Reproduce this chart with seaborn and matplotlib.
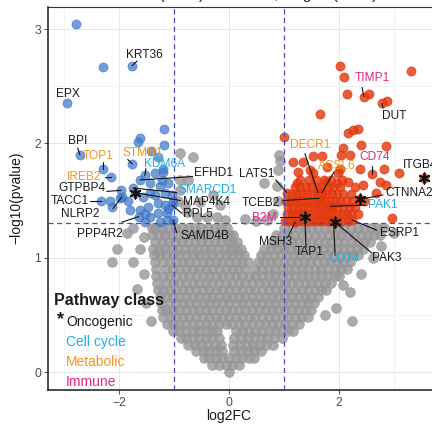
import matplotlib
matplotlib.use("Agg")
import matplotlib.pyplot as plt
import pandas as pd
import seaborn as sns

# ---------------- data ----------------
# non-significant genes, listed by -log10(p) level with their log2FC values
grey_levels = [0.00, 0.06, 0.12, 0.18, 0.24, 0.30, 0.36, 0.42, 0.48, 0.54, 0.60,
               0.66, 0.72, 0.78, 0.84, 0.90, 0.96, 1.02, 1.08, 1.14, 1.20, 1.26]
grey_fc_rows = [
    [0.00],
    [-0.30, -0.18, -0.06, 0.06, 0.18],
    [-0.46, -0.36, -0.24, -0.12, 0.00, 0.12, 0.24, 0.36, 0.45],
    [-0.60, -0.48, -0.36, -0.24, -0.12, 0.10, 0.22, 0.34, 0.46, 0.58],
    [-0.74, -0.62, -0.50, -0.38, -0.26, -0.14, 0.08, 0.20, 0.32, 0.44, 0.56, 0.68, 0.80],
    [-0.88, -0.78, -0.66, -0.54, -0.42, -0.30, -0.18, 0.10, 0.22, 0.34, 0.46, 0.58, 0.70,
     0.82, 0.96],
    [-1.02, -0.90, -0.78, -0.66, -0.54, -0.42, -0.30, -0.22, 0.12, 0.24, 0.36, 0.48, 0.60,
     0.72, 0.84, 0.96, 1.08, 1.16],
    [-1.12, -1.02, -0.90, -0.78, -0.66, -0.54, -0.42, -0.30, -0.18, -0.06, 0.06, 0.18, 0.30,
     0.42, 0.54, 0.66, 0.78, 0.90, 1.02, 1.14, 1.28],
    [-1.20, -1.08, -0.96, -0.84, -0.72, -0.60, -0.48, -0.36, -0.24, -0.12, 0.00, 0.12, 0.24,
     0.36, 0.48, 0.60, 0.72, 0.84, 0.96, 1.08, 1.20, 1.32, 1.44],
    [-1.22, -1.14, -1.02, -0.90, -0.78, -0.66, -0.54, -0.42, -0.30, -0.18, -0.06, 0.06, 0.18,
     0.30, 0.42, 0.54, 0.66, 0.78, 0.90, 1.02, 1.14, 1.26, 1.38, 1.50],
    [-1.24, -1.08, -0.96, -0.84, -0.72, -0.60, -0.48, -0.36, -0.24, -0.12, 0.00, 0.12, 0.24,
     0.36, 0.48, 0.60, 0.72, 0.84, 0.96, 1.08, 1.20, 1.32, 1.44, 1.55],
    [-1.26, -1.14, -1.02, -0.90, -0.78, -0.66, -0.54, -0.42, -0.30, -0.18, -0.06, 0.06, 0.18,
     0.30, 0.42, 0.54, 0.66, 0.78, 0.90, 1.02, 1.14, 1.26, 1.38, 1.50, 1.62],
    [-1.29, -1.20, -1.08, -0.96, -0.84, -0.72, -0.60, -0.48, -0.36, -0.24, -0.12, 0.00, 0.12,
     0.24, 0.36, 0.48, 0.60, 0.72, 0.84, 0.96, 1.08, 1.20, 1.32, 1.44, 1.56, 1.68, 1.76],
    [-1.30, -1.14, -1.02, -0.90, -0.78, -0.66, -0.54, -0.42, -0.30, -0.18, -0.06, 0.06, 0.18,
     0.30, 0.42, 0.54, 0.66, 0.78, 0.90, 1.02, 1.14, 1.26, 1.38, 1.50, 1.62, 1.74, 1.86],
    [-1.32, -1.20, -1.08, -0.96, -0.84, -0.72, -0.60, -0.48, -0.36, -0.24, -0.12, 0.00, 0.12,
     0.24, 0.36, 0.48, 0.60, 0.72, 0.84, 0.96, 1.08, 1.20, 1.32, 1.44, 1.56, 1.68, 1.80, 1.92,
     2.00],
    [-1.33, -1.14, -1.02, -0.90, -0.78, -0.66, -0.54, -0.42, -0.30, -0.18, -0.06, 0.06, 0.17,
     0.29, 0.48, 0.60, 0.72, 0.84, 0.96, 1.08, 1.20, 1.32, 1.44, 1.56, 1.68, 1.80, 1.92, 2.04,
     2.14],
    [-1.34, -1.20, -1.08, -0.96, -0.84, -0.72, -0.60, -0.48, -0.36, -0.24, -0.12, 0.00, 0.12,
     0.24, 0.34, 0.52, 0.64, 0.76, 0.88, 1.00, 1.12, 1.24, 1.36, 1.48, 1.60, 1.72, 1.84, 1.96,
     2.08, 2.20],
    [-1.36, -1.26, -1.14, -1.02, -0.90, -0.78, -0.66, -0.54, -0.42, -0.30, -0.18, -0.06, 0.06,
     0.16, 0.27, 0.58, 0.70, 0.82, 0.94, 1.06, 1.18, 1.30, 1.42, 1.54, 1.66, 1.78, 1.90, 2.02,
     2.14, 2.26, 2.34],
    [-1.38, -1.28, -1.16, -1.04, -0.92, -0.80, -0.68, -0.56, -0.44, -0.32, -0.20, -0.08, 0.04,
     0.12, 0.22, 0.64, 0.76, 0.88, 1.00, 1.12, 1.24, 1.36, 1.48, 1.60, 1.72, 1.84, 1.96, 2.08,
     2.20, 2.32, 2.44],
    [-1.34, -1.22, -1.10, -0.98, -0.86, -0.74, -0.62, -0.50, -0.38, -0.26, -0.14, -0.02, 0.06,
     0.15, 0.78, 0.90, 1.02, 1.14, 1.26, 1.38, 1.50, 1.62, 1.74, 1.86, 1.98, 2.10, 2.22, 2.34,
     2.46, 2.56],
    [-1.40, -1.28, -1.16, -1.04, -0.92, -0.80, -0.68, -0.56, -0.44, -0.32, -0.20, -0.08, 0.02,
     0.08, 0.86, 0.96, 1.08, 1.20, 1.32, 1.44, 1.56, 1.68, 1.80, 1.92, 2.04, 2.16, 2.28, 2.40,
     2.52, 2.64, 2.74],
    [-1.40, -1.34, -1.22, -1.10, -0.98, -0.86, -0.74, -0.62, -0.50, -0.38, -0.26, -0.14, -0.04,
     1.00, 1.14, 1.26, 1.38, 1.50, 1.62, 1.74, 1.86, 1.98, 2.10, 2.22, 2.34, 2.46, 2.58, 2.70,
     2.82],
]
# scattered non-significant genes
grey_extra_fc = [-2.04, -2.13, -1.75, -1.62, -1.75, -1.85, -1.67, -1.55, -1.50, -1.42, -1.55,
                 1.95, 2.07, 2.24, 2.40, 2.62, 2.76, 3.00, 1.75, 2.20,
                 -0.89, -0.65, -0.89, -0.75, -0.53, -0.29, -0.16, -0.76, -0.58, -0.40, -0.22,
                 -0.07, -0.89, -0.93, -0.80, 0.91, 0.93, 0.89, 0.64, 0.88, 0.90, 0.80, 0.70,
                 0.50, 0.30]
grey_extra_nlp = [1.08, 0.96, 0.96, 1.08, 1.26, 1.22, 0.73, 0.86, 0.60, 0.45, 1.18,
                  0.56, 0.76, 0.45, 0.86, 1.00, 1.10, 1.22, 0.50, 0.70,
                  1.92, 1.88, 1.68, 1.68, 1.49, 1.55, 1.46, 1.40, 1.36, 1.36, 1.36,
                  1.33, 1.59, 1.50, 1.46, 1.90, 1.85, 1.77, 1.65, 1.63, 1.50, 1.38, 1.33,
                  1.32, 1.34]

# significantly down-regulated genes (unlabelled)
down_fc = [-2.78, -2.29, -1.18, -1.62, -1.65, -1.18, -1.42, -1.20, -1.29, -1.35, -1.22,
           -2.16, -1.98, -1.56, -1.44, -1.35, -1.16, -1.04, -1.62, -1.47, -1.29, -1.16,
           -1.02, -1.80, -2.13, -1.44, -1.29, -1.13, -1.53, -1.25, -1.13, -1.84, -1.25,
           -1.11, -1.44, -1.20, -1.53, -1.10]
down_nlp = [3.04, 2.67, 2.13, 2.05, 2.01, 1.99, 1.93, 1.75, 1.88, 1.74, 1.68,
            1.50, 1.52, 1.53, 1.57, 1.55, 1.57, 1.55, 1.42, 1.44, 1.48, 1.46,
            1.50, 1.42, 1.44, 1.36, 1.39, 1.39, 1.31, 1.31, 1.33, 1.50, 1.63,
            1.65, 1.65, 1.78, 1.38, 1.43]

# significantly up-regulated genes (unlabelled)
up_fc = [2.02, 3.31, 2.09, 2.15, 2.55, 2.87, 1.65, 1.00, 2.16, 2.25, 2.35, 2.07, 2.40, 2.85,
         2.04, 2.20, 1.53, 1.69, 1.16, 1.35, 2.38, 3.09, 1.24, 1.53, 1.76, 1.98, 1.96, 2.16,
         2.44, 2.85, 2.67, 1.25, 1.47, 1.78, 2.02, 2.82, 2.96, 2.75,
         1.02, 1.10, 1.18, 1.26, 1.34, 1.42, 1.50, 1.58, 1.66, 1.74, 1.82, 1.90, 1.98, 2.06,
         2.16,
         1.05, 1.14, 1.22, 1.30, 1.38, 1.46, 1.55, 1.63, 1.71, 1.80, 1.88, 1.96, 2.05, 2.14,
         2.22, 2.35,
         1.08, 1.17, 1.26, 1.35, 1.44, 1.53, 1.62, 1.70, 1.79, 1.88, 1.97, 2.08, 2.20, 2.30,
         1.03, 1.12, 1.21, 1.30, 1.39, 1.48, 1.57, 1.66, 1.75, 1.84, 1.93, 2.02, 2.12, 2.26,
         2.46,
         1.15, 1.24, 1.33, 1.42, 1.51, 1.60, 1.69, 1.78, 1.87, 1.96, 2.08, 2.22,
         1.20, 1.30, 1.40, 1.50, 1.60, 1.70, 1.80, 1.90, 2.02, 2.30,
         1.30, 1.45, 1.58, 1.72, 1.85, 2.05]
up_nlp = [2.68, 2.63, 2.58, 2.43, 2.43, 2.37, 2.26, 2.06, 2.09, 2.12, 2.13, 1.96, 1.99, 1.98,
          1.90, 1.90, 1.89, 1.89, 1.84, 1.84, 1.78, 1.74, 1.65, 1.74, 1.66, 1.74, 1.65, 1.66,
          1.64, 1.64, 1.57, 1.75, 1.77, 1.79, 1.78, 1.78, 1.35, 1.66,
          1.32, 1.32, 1.32, 1.32, 1.32, 1.32, 1.32, 1.32, 1.32, 1.32, 1.32, 1.32, 1.32, 1.32,
          1.32,
          1.38, 1.38, 1.38, 1.38, 1.38, 1.38, 1.38, 1.38, 1.38, 1.38, 1.38, 1.38, 1.38, 1.38,
          1.38, 1.38,
          1.44, 1.44, 1.44, 1.44, 1.44, 1.44, 1.44, 1.44, 1.44, 1.44, 1.44, 1.44, 1.44, 1.44,
          1.50, 1.50, 1.50, 1.50, 1.50, 1.50, 1.50, 1.50, 1.50, 1.50, 1.50, 1.50, 1.50, 1.50,
          1.50,
          1.56, 1.56, 1.56, 1.56, 1.56, 1.56, 1.56, 1.56, 1.56, 1.56, 1.56, 1.56,
          1.62, 1.62, 1.62, 1.62, 1.62, 1.62, 1.62, 1.62, 1.62, 1.62,
          1.68, 1.68, 1.68, 1.68, 1.68, 1.68]

# labelled genes
label_genes = ["KRT36", "EPX", "BPI", "TOP1", "STMN1", "IREB2", "KDM6A", "EFHD1", "SMARCD1",
               "GTPBP4", "MAP4K4", "TACC1", "NLRP2", "RPL5", "PPP4R2", "SAMD4B",
               "TIMP1", "DUT", "DECR1", "ACSL6", "CD74", "ITGB4", "LATS1", "TCEB2", "CTNNA2",
               "PAK1", "B2M", "TAP1", "MSH3", "CD14", "PAK3", "ESRP1"]
label_fc = [-1.76, -2.95, -2.71, -2.29, -1.76, -2.15, -1.53, -1.62, -1.75,
            -1.96, -1.71, -2.33, -1.95, -1.04, -1.64, -1.02,
            2.45, 2.78, 1.62, 1.69, 2.60, 3.55, 1.05, 1.64, 2.38,
            1.85, 1.29, 1.38, 1.20, 1.90, 1.93, 2.24]
label_nlp = [2.68, 2.35, 1.90, 1.78, 1.82, 1.71, 1.72, 1.68, 1.61,
             1.59, 1.57, 1.50, 1.53, 1.46, 1.36, 1.33,
             2.41, 2.35, 1.57, 1.57, 1.73, 1.70, 1.57, 1.52, 1.51,
             1.45, 1.36, 1.36, 1.31, 1.32, 1.31, 1.33]
label_pathway = ["none", "none", "none", "metabolic", "metabolic", "metabolic", "cell", "none",
                 "cell", "none", "none", "none", "none", "none", "none", "none",
                 "immune", "none", "metabolic", "metabolic", "immune", "none", "none", "none",
                 "none", "cell", "immune", "none", "none", "cell", "none", "none"]
oncogenic_genes = ["MAP4K4", "ITGB4", "CTNNA2", "TAP1", "PAK3"]

legend_items = ["Oncogenic", "Cell cycle", "Metabolic", "Immune"]

# ---------------- styling / layout ----------------
C_GREY, C_BLUE, C_RED = "#989696", "#3f78c8", "#e3390f"
PATH_COL = {"none": "#1a1a1a", "cell": "#1aaee8", "metabolic": "#f7941d", "immune": "#e6248e"}
DASH = "#4b4bc4"

# label placement: text x, text y, alignment, segment start (x, y) or None
label_layout = {
    "KRT36": (-1.53, 2.77, "center", (-1.67, 2.72)),
    "EPX": (-2.93, 2.43, "center", None),
    "BPI": (-2.75, 2.02, "center", (-2.75, 1.96)),
    "TOP1": (-2.38, 1.89, "center", (-2.29, 1.84)),
    "STMN1": (-1.56, 1.92, "center", (-1.84, 1.86)),
    "IREB2": (-2.64, 1.71, "center", (-2.25, 1.71)),
    "KDM6A": (-1.18, 1.82, "center", (-1.51, 1.78)),
    "EFHD1": (-0.64, 1.74, "left", (-0.66, 1.71)),
    "SMARCD1": (-0.92, 1.59, "left", (-0.95, 1.57)),
    "GTPBP4": (-2.67, 1.61, "center", (-2.22, 1.58)),
    "MAP4K4": (-0.84, 1.49, "left", (-0.88, 1.50)),
    "TACC1": (-2.89, 1.50, "center", (-2.53, 1.50)),
    "NLRP2": (-2.71, 1.38, "center", (-2.11, 1.43)),
    "RPL5": (-0.84, 1.38, "left", (-0.86, 1.39)),
    "PPP4R2": (-2.35, 1.21, "center", (-1.95, 1.31)),
    "SAMD4B": (-0.89, 1.19, "left", (-0.95, 1.22)),
    "TIMP1": (2.60, 2.57, "center", (2.42, 2.49)),
    "DUT": (3.00, 2.24, "center", (2.80, 2.31)),
    "DECR1": (1.47, 1.99, "center", (1.38, 1.91)),
    "ACSL6": (1.96, 1.80, "center", (1.91, 1.75)),
    "CD74": (2.65, 1.88, "center", (2.60, 1.80)),
    "ITGB4": (3.16, 1.81, "left", None),
    "LATS1": (0.51, 1.73, "center", (0.85, 1.68)),
    "TCEB2": (0.58, 1.48, "center", (0.98, 1.50)),
    "CTNNA2": (2.84, 1.57, "left", (2.80, 1.55)),
    "PAK1": (2.53, 1.46, "left", (2.49, 1.46)),
    "B2M": (0.65, 1.35, "center", (0.93, 1.36)),
    "TAP1": (1.45, 1.05, "center", (1.40, 1.09)),
    "MSH3": (0.84, 1.14, "center", (1.07, 1.18)),
    "CD14": (2.09, 0.99, "center", (1.93, 1.02)),
    "PAK3": (2.87, 1.00, "center", (2.60, 1.04)),
    "ESRP1": (3.10, 1.22, "center", (2.69, 1.24)),
}

# ---------------- build tables ----------------
g_fc, g_nlp = [], []
for lvl, row in zip(grey_levels, grey_fc_rows):
    g_fc += row
    g_nlp += [lvl] * len(row)
g_fc += grey_extra_fc
g_nlp += grey_extra_nlp
grey_df = pd.DataFrame({"log2FC": g_fc, "nlp": g_nlp})

lab_df = pd.DataFrame({"gene": label_genes, "log2FC": label_fc, "nlp": label_nlp,
                       "pathway": label_pathway})
down_df = pd.concat([pd.DataFrame({"log2FC": down_fc, "nlp": down_nlp}),
                     lab_df[lab_df.log2FC < 0][["log2FC", "nlp"]]])
up_df = pd.concat([pd.DataFrame({"log2FC": up_fc, "nlp": up_nlp}),
                   lab_df[lab_df.log2FC > 0][["log2FC", "nlp"]]])

# ---------------- plot ----------------
sns.set_theme(style="white")
plt.rcParams["font.family"] = ["Liberation Sans", "DejaVu Sans"]

fig = plt.figure(figsize=(4.32, 4.26), dpi=100)
ax = fig.add_axes([48 / 432, 36 / 426, 406.5 / 432, 383 / 426])
ax.set_xlim(-3.29, 4.10)
ax.set_ylim(-0.157, 3.193)

ax.set_xticks([-2, 0, 2])
ax.set_yticks([0, 1, 2, 3])
ax.set_xticks([-3, -1, 1, 3], minor=True)
ax.set_yticks([0.5, 1.5, 2.5], minor=True)
ax.grid(True, which="major", color="#e6e6e6", lw=0.7, zorder=0)
ax.grid(True, which="minor", color="#eeeeee", lw=0.5, zorder=0)
ax.set_axisbelow(True)

sns.scatterplot(data=grey_df, x="log2FC", y="nlp", color=C_GREY, edgecolor=C_GREY,
                alpha=0.8, zorder=2, s=50, linewidth=0.5, legend=False, ax=ax)
sns.scatterplot(data=down_df, x="log2FC", y="nlp", color=C_BLUE, edgecolor=C_BLUE,
                alpha=0.72, zorder=3, s=42, linewidth=0.6, legend=False, ax=ax)
sns.scatterplot(data=up_df, x="log2FC", y="nlp", color=C_RED, edgecolor=C_RED,
                alpha=0.82, zorder=3, s=42, linewidth=0.6, legend=False, ax=ax)

onc = lab_df[lab_df.gene.isin(oncogenic_genes)]
ax.scatter(onc.log2FC, onc.nlp, marker=(6, 2, 0), s=55, color="#111111", linewidths=1.3,
           zorder=6)

ax.axvline(-1, color=DASH, ls=(0, (4, 3)), lw=0.9, zorder=4)
ax.axvline(1, color=DASH, ls=(0, (4, 3)), lw=0.9, zorder=4)
ax.axhline(1.30103, color=DASH, ls=(0, (4, 3)), lw=0.9, zorder=4)

for _, r in lab_df.iterrows():
    tx, ty, ha, seg = label_layout[r.gene]
    if seg is not None:
        ax.plot([seg[0], r.log2FC], [seg[1], r.nlp], color="#111111", lw=0.8, zorder=7)
    ax.text(tx, ty, r.gene, ha=ha, va="center", fontsize=8.6, color=PATH_COL[r.pathway],
            zorder=8)

for s in ax.spines.values():
    s.set_color("#333333")
    s.set_linewidth(0.8)
ax.spines["left"].set_linewidth(1.1)
ax.spines["bottom"].set_linewidth(1.1)
ax.spines["left"].set_color("#1a1a1a")
ax.spines["bottom"].set_color("#1a1a1a")

ax.tick_params(axis="both", which="major", length=3, width=0.6, color="#333333",
               labelsize=8.8, labelcolor="#4d4d4d", pad=2, left=True, bottom=True)
ax.tick_params(axis="both", which="minor", length=0)
ax.set_xticklabels(["\u22122", "0", "2"])
ax.set_xlabel("")
ax.set_ylabel("")

fig.text(229 / 432, 1 - 416 / 426, "log2FC", ha="center", va="center", fontsize=10,
         color="#1a1a1a")
fig.text(16 / 432, 1 - 198 / 426, "\u2212log10(pvalue)", ha="center", va="center",
         rotation=90, fontsize=10, color="#1a1a1a")
fig.text(240 / 432, 1 + 0.5 / 426, "Tumour (n=24) vs normal, stage I (n=24)", ha="center",
         va="baseline", fontsize=11, color="#1a1a1a")

# legend (text-only keys, star for oncogenic)
fig.text(54 / 432, 1 - 300 / 426, "Pathway class", ha="left", va="center", fontsize=11.5,
         fontweight="bold", color="#1a1a1a")
leg_cols = ["#1a1a1a", PATH_COL["cell"], PATH_COL["metabolic"], PATH_COL["immune"]]
leg_y = [322, 342, 362, 382]
for name, col, yy in zip(legend_items, leg_cols, leg_y):
    fig.text(66 / 432, 1 - yy / 426, name, ha="left", va="center", fontsize=10, color=col)
fig.text(61 / 432, 1 - 320 / 426, "*", ha="center", va="center", fontsize=13,
         color="#1a1a1a", fontweight="bold")

fig.savefig("out.png", dpi=100)
